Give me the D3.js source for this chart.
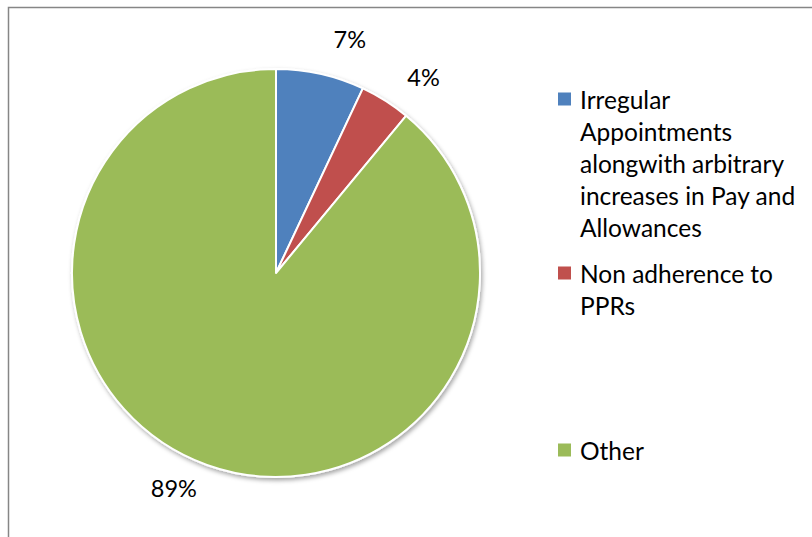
<!DOCTYPE html>
<html><head><meta charset="utf-8">
<script src="https://cdn.jsdelivr.net/npm/d3@7"></script>
<style>body{margin:0;background:#fff}svg{display:block}</style>
</head><body>
<svg id="c" width="812" height="537"></svg>
<script>
const categories = ["Irregular Appointments alongwith arbitrary increases in Pay and Allowances", "Non adherence to PPRs", "Other"];
const legendLines = [["Irregular", "Appointments", "alongwith arbitrary", "increases in Pay and", "Allowances"], ["Non adherence to", "PPRs"], ["Other"]];
const values = [7, 4, 89];
const labels = ["7%", "4%", "89%"];
const colors = ["#4F81BD", "#C0504D", "#9BBB59"];

const svg = d3.select("#c");
const font = "Lato, 'Noto Sans', sans-serif";
// chart border
svg.append("rect").attr("x", 8.5).attr("y", 7.5).attr("width", 820).attr("height", 540)
  .attr("fill", "#fff").attr("stroke", "#868686").attr("stroke-width", 1.5);

const defs = svg.append("defs");
const f = defs.append("filter").attr("id", "sh").attr("x", "-10%").attr("y", "-10%").attr("width", "120%").attr("height", "120%");
f.append("feDropShadow").attr("dx", 1.5).attr("dy", 2.5).attr("stdDeviation", 2).attr("flood-color", "#000").attr("flood-opacity", 0.35);

const cx = 276, cy = 273, r = 204;
const pie = d3.pie().sort(null).value(d => d);
const arcs = pie(values);
const arc = d3.arc().innerRadius(0).outerRadius(r);
const g = svg.append("g").attr("transform", `translate(${cx},${cy})`);
g.append("g").attr("filter", "url(#sh)").selectAll("path").data(arcs).join("path")
  .attr("d", arc).attr("fill", (d, i) => colors[i]).attr("stroke", "#fff").attr("stroke-width", 2).attr("stroke-linejoin", "round");

const labelR = 242, nudge = 0.09;
const la = d => (d.startAngle + d.endAngle) / 2 + nudge;
g.selectAll("text.lbl").data(arcs).join("text").attr("class", "lbl")
  .attr("x", d => Math.sin(la(d)) * labelR)
  .attr("y", d => -Math.cos(la(d)) * labelR - 4)
  .attr("text-anchor", "middle").attr("dominant-baseline", "central")
  .attr("font-family", font).attr("font-size", 23.5).attr("fill", "#000")
  .text((d, i) => labels[i]);

// legend
const lx = 558, lineH = 32.2;
const starts = [99, 273, 450];
const lg = svg.append("g");
categories.forEach((c, i) => {
  const y0 = starts[i];
  lg.append("rect").attr("x", lx).attr("y", y0 - 6.5).attr("width", 13).attr("height", 13).attr("fill", colors[i]);
  const t = lg.append("text").attr("font-family", font).attr("font-size", 24.5).attr("fill", "#000");
  legendLines[i].forEach((ln, j) => {
    t.append("tspan").attr("x", lx + 22).attr("y", y0 + j * lineH).attr("dominant-baseline", "central").text(ln);
  });
});
</script>
</body></html>
